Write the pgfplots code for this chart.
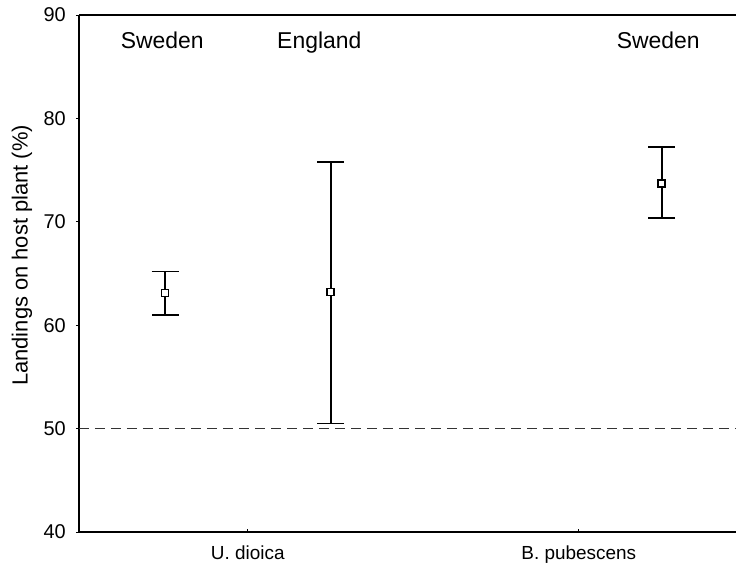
\documentclass[border=0pt]{standalone}
\usepackage{fontspec}
\setmainfont{Liberation Sans}
\usepackage{pgfplots}
\usepackage{pgfplotstable}
\pgfplotsset{compat=1.18}
\pgfplotstableread{
x y ep em
0.5 63.1 2.1 2.1
1.5 63.2 12.55 12.7
3.5 73.7 3.5 3.3
}\data
\begin{document}
\begin{tikzpicture}
\begin{axis}[
  scale only axis,
  width=657bp, height=517bp,
  xmin=-0.02, xmax=3.95,
  ymin=40, ymax=90,
  axis x line*=bottom, axis y line*=left,
  axis line style={line width=1.1bp},
  ytick={40,50,60,70,80,90},
  xtick={1,3},
  xticklabels={U. dioica, B. pubescens},
  major tick length=3bp,
  tick align=outside,
  tick style={black, line width=0.8bp},
  xtick style={yshift=3bp},
  /pgf/number format/assume math mode=true,
  yticklabel style={font=\fontsize{20}{22}\selectfont, inner sep=0pt, anchor=east, xshift=-10bp},
  xticklabel style={font=\fontsize{19}{22}\selectfont, inner sep=0pt, anchor=north, yshift=-11bp},
  ylabel={Landings on host plant (\%)},
  every axis y label/.style={at={(rel axis cs:0,0.535)}, rotate=90, anchor=center, yshift=57bp, font=\fontsize{22}{24}\selectfont},
  clip=false,
]
\draw[line width=1.1bp] (rel axis cs:0,1) -- (rel axis cs:1,1);
\addplot[black!80, line width=1.2bp, dash pattern=on 10bp off 6bp] coordinates {(-0.02,50) (3.95,50)};
\addplot[black, only marks, mark=square*, mark size=3.5bp,
  mark options={fill=white, draw=black, line width=1.2bp},
  error bars/.cd, y dir=both, y explicit,
  error bar style={line width=2bp, draw=black, solid},
  error mark options={rotate=90, mark size=13.5bp, line width=1.8bp, black}]
  table[x=x, y=y, y error plus=ep, y error minus=em] {\data};
\node[font=\fontsize{23}{24}\selectfont, anchor=base] at (axis cs:0.483,86.78) {Sweden};
\node[font=\fontsize{23}{24}\selectfont, anchor=base] at (axis cs:1.432,86.78) {England};
\node[font=\fontsize{23}{24}\selectfont, anchor=base] at (axis cs:3.48,86.78) {Sweden};
\path (rel axis cs:0,0) ++(-79bp,-34bp) coordinate (bl);
\path (rel axis cs:1,1) ++(0bp,15bp) coordinate (tr);
\end{axis}
\pgfresetboundingbox
\path (bl) rectangle (tr);
\end{tikzpicture}
\end{document}
